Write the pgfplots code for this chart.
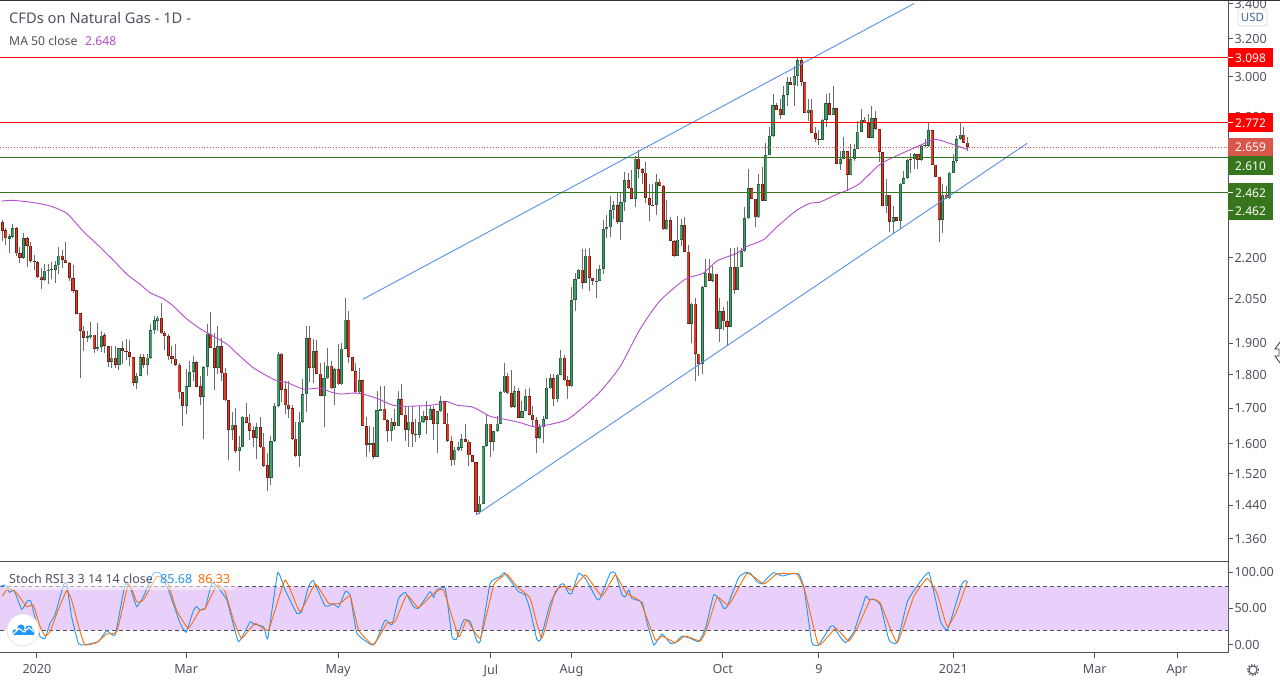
\documentclass[border=0pt]{standalone}
\usepackage{fontspec}
\setmainfont{Noto Sans}
\usepackage{pgfplots}
\usepackage{pgfplotstable}
\pgfplotsset{compat=1.18}
\definecolor{txt}{HTML}{50535E}
\definecolor{axl}{HTML}{50535E}
\definecolor{wick}{HTML}{6E6E6E}
\definecolor{upD}{HTML}{22643F}
\definecolor{upF}{HTML}{4A9A70}
\definecolor{dnD}{HTML}{7A1E14}
\definecolor{dnF}{HTML}{DC3C2C}
\definecolor{band}{HTML}{E9D0FB}
\definecolor{lnred}{HTML}{FF0000}
\definecolor{lngrn}{HTML}{38761D}
\definecolor{trend}{HTML}{5A8FE8}
\definecolor{ma}{HTML}{B44CCF}
\definecolor{rsib}{HTML}{2196F3}
\definecolor{rsio}{HTML}{FF6D00}
\definecolor{boxp}{HTML}{D9574A}
\pgfplotstableread{
i o h l c
2 2.273 2.290 2.217 2.283
3 2.280 2.330 2.274 2.313
6 2.200 2.294 2.197 2.274
12 2.118 2.175 2.114 2.152
13 2.151 2.178 2.102 2.156
14 2.155 2.184 2.120 2.157
15 2.155 2.188 2.106 2.172
16 2.171 2.239 2.138 2.208
24 1.918 1.941 1.904 1.923
25 1.921 1.971 1.913 1.929
27 1.882 1.967 1.876 1.889
28 1.888 1.940 1.872 1.925
31 1.840 1.891 1.823 1.854
33 1.831 1.886 1.815 1.886
38 1.776 1.807 1.757 1.798
39 1.798 1.865 1.797 1.857
41 1.831 1.865 1.799 1.854
42 1.853 1.963 1.851 1.945
43 1.945 1.992 1.930 1.977
44 1.975 1.992 1.941 1.986
52 1.707 1.817 1.683 1.765
53 1.764 1.845 1.762 1.810
54 1.809 1.859 1.782 1.840
57 1.734 1.828 1.614 1.825
58 1.825 1.963 1.797 1.932
61 1.822 1.956 1.802 1.892
65 1.639 1.688 1.609 1.653
67 1.580 1.621 1.526 1.592
68 1.592 1.678 1.590 1.676
72 1.617 1.657 1.558 1.647
76 1.508 1.620 1.490 1.607
77 1.607 1.715 1.604 1.708
78 1.707 1.872 1.705 1.867
84 1.567 1.688 1.537 1.662
85 1.661 1.787 1.659 1.741
86 1.741 1.956 1.688 1.918
88 1.822 1.913 1.775 1.876
91 1.737 1.840 1.645 1.789
92 1.789 1.886 1.787 1.829
94 1.759 1.822 1.710 1.819
96 1.771 1.902 1.769 1.883
97 1.883 2.055 1.881 1.979
101 1.747 1.820 1.745 1.783
104 1.597 1.650 1.578 1.601
106 1.565 1.750 1.564 1.694
107 1.693 1.765 1.692 1.699
110 1.635 1.673 1.607 1.662
112 1.650 1.752 1.648 1.726
115 1.639 1.707 1.591 1.662
118 1.625 1.707 1.617 1.662
119 1.661 1.693 1.659 1.679
121 1.667 1.707 1.666 1.697
123 1.656 1.693 1.576 1.691
124 1.691 1.735 1.690 1.720
128 1.555 1.590 1.543 1.584
129 1.583 1.604 1.581 1.590
130 1.589 1.626 1.581 1.612
135 1.423 1.464 1.419 1.444
136 1.444 1.595 1.442 1.593
137 1.593 1.683 1.591 1.656
139 1.604 1.636 1.581 1.636
140 1.635 1.678 1.633 1.656
141 1.656 1.752 1.654 1.747
142 1.747 1.838 1.745 1.798
145 1.703 1.765 1.701 1.750
147 1.673 1.722 1.671 1.693
148 1.693 1.757 1.692 1.735
152 1.615 1.654 1.613 1.645
153 1.645 1.678 1.601 1.670
154 1.670 1.792 1.668 1.759
155 1.759 1.802 1.757 1.789
157 1.726 1.802 1.717 1.801
158 1.801 1.878 1.799 1.854
161 1.765 2.093 1.764 2.047
162 2.047 2.142 2.007 2.122
163 2.122 2.157 2.120 2.156
165 2.108 2.232 2.106 2.208
168 2.113 2.157 2.055 2.115
169 2.114 2.172 2.113 2.159
170 2.159 2.347 2.138 2.309
171 2.309 2.366 2.276 2.317
172 2.317 2.444 2.279 2.388
173 2.388 2.424 2.350 2.409
175 2.340 2.458 2.268 2.421
176 2.421 2.549 2.384 2.511
179 2.434 2.618 2.401 2.607
185 2.408 2.538 2.366 2.506
188 2.309 2.429 2.306 2.345
191 2.207 2.361 2.206 2.269
192 2.269 2.350 2.245 2.325
195 1.965 2.037 1.900 2.034
198 1.835 2.096 1.802 2.093
199 2.093 2.194 2.092 2.145
201 2.114 2.169 2.111 2.141
203 1.948 2.055 1.904 2.007
206 1.955 2.238 1.954 2.164
208 2.082 2.242 2.081 2.167
209 2.167 2.238 2.166 2.225
210 2.224 2.399 2.223 2.353
211 2.353 2.560 2.350 2.477
214 2.357 2.538 2.354 2.494
216 2.426 2.679 2.424 2.624
217 2.623 2.752 2.622 2.710
218 2.710 2.911 2.707 2.858
221 2.809 2.952 2.807 2.908
222 2.908 3.000 2.855 2.973
224 2.956 3.054 2.855 3.004
225 3.002 3.098 2.952 3.084
228 2.819 2.888 2.781 2.835
232 2.692 2.792 2.691 2.787
233 2.787 2.911 2.752 2.868
235 2.809 2.952 2.807 2.843
237 2.584 2.641 2.555 2.606
238 2.605 2.704 2.603 2.642
240 2.535 2.672 2.534 2.606
241 2.605 2.672 2.596 2.651
242 2.651 2.780 2.648 2.730
243 2.730 2.838 2.729 2.787
246 2.701 2.852 2.700 2.795
250 2.402 2.519 2.377 2.451
252 2.339 2.404 2.290 2.360
254 2.343 2.499 2.310 2.498
255 2.498 2.552 2.496 2.523
256 2.522 2.607 2.519 2.602
258 2.605 2.633 2.559 2.628
260 2.601 2.672 2.596 2.664
261 2.664 2.697 2.661 2.667
262 2.664 2.775 2.661 2.738
266 2.348 2.495 2.297 2.451
268 2.435 2.548 2.431 2.545
269 2.545 2.626 2.542 2.597
270 2.597 2.710 2.589 2.695
271 2.695 2.775 2.693 2.716
}\upT
\pgfplotstableread{
i o h l c
0 2.337 2.346 2.264 2.303
1 2.305 2.313 2.247 2.274
4 2.313 2.317 2.207 2.216
5 2.216 2.241 2.179 2.200
7 2.274 2.280 2.166 2.246
8 2.246 2.260 2.181 2.188
9 2.189 2.209 2.155 2.184
10 2.185 2.189 2.126 2.129
11 2.130 2.163 2.084 2.118
17 2.208 2.228 2.163 2.191
18 2.193 2.260 2.179 2.180
19 2.181 2.184 2.114 2.125
20 2.126 2.172 2.072 2.078
21 2.080 2.080 1.998 1.999
22 2.000 2.000 1.790 1.941
23 1.942 1.958 1.876 1.918
26 1.929 1.929 1.870 1.882
29 1.926 1.935 1.868 1.891
30 1.892 1.892 1.825 1.840
32 1.854 1.891 1.820 1.830
34 1.885 1.908 1.833 1.875
35 1.875 1.913 1.848 1.872
36 1.872 1.911 1.828 1.856
37 1.857 1.857 1.767 1.776
40 1.856 1.865 1.823 1.831
45 1.986 2.035 1.930 1.933
46 1.935 1.941 1.880 1.924
47 1.925 1.930 1.846 1.859
48 1.859 1.891 1.833 1.850
49 1.851 1.897 1.828 1.831
50 1.832 1.838 1.727 1.747
51 1.747 1.747 1.649 1.707
55 1.840 1.843 1.762 1.764
56 1.765 1.797 1.710 1.734
59 1.932 2.003 1.884 1.886
60 1.886 1.935 1.755 1.822
62 1.892 1.919 1.782 1.807
63 1.807 1.822 1.722 1.723
64 1.723 1.723 1.556 1.639
66 1.653 1.702 1.574 1.581
69 1.676 1.715 1.657 1.659
70 1.659 1.683 1.609 1.636
71 1.637 1.650 1.590 1.617
73 1.647 1.676 1.587 1.591
74 1.592 1.631 1.537 1.541
75 1.542 1.576 1.476 1.508
79 1.867 1.870 1.717 1.755
80 1.756 1.782 1.683 1.711
81 1.711 1.782 1.673 1.699
82 1.700 1.709 1.611 1.613
83 1.614 1.661 1.563 1.567
87 1.918 1.959 1.779 1.822
89 1.876 1.911 1.802 1.804
90 1.804 1.838 1.735 1.737
93 1.829 1.845 1.757 1.759
95 1.819 1.897 1.769 1.771
98 1.979 2.007 1.838 1.856
99 1.857 1.857 1.812 1.812
100 1.812 1.838 1.745 1.747
102 1.783 1.783 1.648 1.650
103 1.650 1.676 1.563 1.597
105 1.601 1.645 1.558 1.565
108 1.699 1.765 1.665 1.667
109 1.667 1.668 1.606 1.635
111 1.662 1.698 1.638 1.650
113 1.726 1.772 1.680 1.682
114 1.682 1.707 1.608 1.639
116 1.662 1.707 1.591 1.628
117 1.628 1.668 1.606 1.625
120 1.679 1.722 1.626 1.667
122 1.697 1.707 1.610 1.656
125 1.720 1.722 1.654 1.656
126 1.656 1.685 1.606 1.608
127 1.608 1.622 1.539 1.555
131 1.612 1.656 1.604 1.606
132 1.606 1.610 1.541 1.568
133 1.568 1.568 1.550 1.550
134 1.550 1.550 1.416 1.423
138 1.656 1.656 1.563 1.604
143 1.798 1.805 1.742 1.744
144 1.744 1.814 1.701 1.703
146 1.750 1.759 1.671 1.673
149 1.735 1.760 1.680 1.682
150 1.682 1.707 1.650 1.665
151 1.665 1.676 1.576 1.615
156 1.789 1.802 1.707 1.726
159 1.854 1.864 1.782 1.783
160 1.783 1.797 1.727 1.765
164 2.156 2.232 2.087 2.108
166 2.208 2.236 2.078 2.126
167 2.126 2.126 2.100 2.114
174 2.409 2.458 2.330 2.340
177 2.511 2.545 2.476 2.479
178 2.479 2.556 2.431 2.434
180 2.607 2.644 2.523 2.562
181 2.562 2.567 2.497 2.545
182 2.545 2.593 2.415 2.438
183 2.438 2.495 2.344 2.409
184 2.409 2.495 2.406 2.407
186 2.506 2.519 2.486 2.487
187 2.488 2.490 2.306 2.309
189 2.345 2.357 2.262 2.264
190 2.265 2.268 2.203 2.207
193 2.325 2.357 2.220 2.222
194 2.223 2.247 1.964 1.965
196 2.034 2.055 1.782 1.866
197 1.867 1.867 1.796 1.835
200 2.145 2.197 2.113 2.114
202 2.141 2.141 1.947 1.948
204 2.007 2.023 1.943 1.973
205 1.973 2.043 1.892 1.955
207 2.164 2.238 2.067 2.082
212 2.477 2.481 2.431 2.434
213 2.434 2.434 2.317 2.357
215 2.494 2.571 2.424 2.426
219 2.858 2.868 2.832 2.835
220 2.838 2.885 2.792 2.809
223 2.973 3.000 2.955 2.956
226 3.084 3.102 2.952 2.973
227 2.973 2.973 2.817 2.819
229 2.835 2.888 2.722 2.724
230 2.725 2.752 2.682 2.697
231 2.698 2.740 2.667 2.692
234 2.868 2.918 2.807 2.809
236 2.843 2.843 2.582 2.585
239 2.642 2.642 2.467 2.535
244 2.787 2.800 2.770 2.771
245 2.772 2.813 2.700 2.701
247 2.795 2.828 2.740 2.743
248 2.743 2.743 2.592 2.638
249 2.638 2.638 2.402 2.403
251 2.451 2.451 2.300 2.339
253 2.360 2.360 2.342 2.343
257 2.607 2.633 2.545 2.601
259 2.628 2.628 2.559 2.601
263 2.738 2.738 2.578 2.580
264 2.580 2.580 2.527 2.528
265 2.528 2.528 2.261 2.348
267 2.451 2.488 2.434 2.435
272 2.716 2.752 2.678 2.679
273 2.679 2.707 2.642 2.659
}\dnT
\newcommand{\PX}[2]{({#1pt},{680pt-#2pt})}
\pgfplotsset{barplot/.style={draw=none,mark=none,forget plot,error bars/.cd,y dir=plus,y explicit,error mark=none,error bar style={#1}}}
\begin{document}
\begin{tikzpicture}[x=1pt,y=1pt]
\useasboundingbox (0,0) rectangle (1280pt,680pt);
\fill[white] (0,0) rectangle (1280pt,680pt);
\begin{axis}[
  at={(0pt,118pt)},anchor=south west,scale only axis,width=1228pt,height=561pt,
  ymode=log,xmin=-0.65,xmax=346.7,ymin=1.3066,ymax=3.4146,
  axis x line*=bottom,axis y line*=right,
  axis line style={axl,line width=1pt,-},
  xtick=\empty,
  ytick={1.36,1.44,1.52,1.6,1.7,1.8,1.9,2.05,2.2,2.8,3,3.2,3.4},
  yticklabels={1.360,1.440,1.520,1.600,1.700,1.800,1.900,2.050,2.200,2.800,3.000,3.200,3.400},
  yticklabel pos=right,
  tick align=outside,major tick length=5pt,
  tick style={axl,line width=1pt},
  minor tick num=0,yminorticks=false,
  yticklabel style={font=\fontsize{12.6}{14}\selectfont,text=txt,anchor=west,xshift=-2pt},
  clip=true,
]
% wicks
\addplot[barplot={draw=wick,line width=1pt}] table[x=i,y=l,y error plus expr=\thisrow{h}-\thisrow{l}] {\upT};
\addplot[barplot={draw=wick,line width=1pt}] table[x=i,y=l,y error plus expr=\thisrow{h}-\thisrow{l}] {\dnT};
% bodies
\addplot[barplot={draw=upD,line width=3.1pt}] table[x=i,y=o,y error plus expr=\thisrow{c}-\thisrow{o}] {\upT};
\addplot[barplot={draw=upF,line width=1.5pt}] table[x=i,y expr=\thisrow{o}*1.0014,y error plus expr={max(\thisrow{c}*0.9986-\thisrow{o}*1.0014,0)}] {\upT};
\addplot[barplot={draw=dnD,line width=3.1pt}] table[x=i,y=c,y error plus expr=\thisrow{o}-\thisrow{c}] {\dnT};
\addplot[barplot={draw=dnF,line width=1.5pt}] table[x=i,y expr=\thisrow{c}*1.0014,y error plus expr={max(\thisrow{o}*0.9986-\thisrow{c}*1.0014,0)}] {\dnT};
% moving average
\addplot[ma,line width=0.9pt,smooth,tension=0.4] coordinates {
(-0.2,2.424)(3,2.427)(8.7,2.418)(13.5,2.404)(18.3,2.373)(22.8,2.303)(27.6,2.241)(31.3,2.192)(35.3,2.138)(39,2.102)(41.8,2.072)(45.5,2.051)(48.3,2.026)(52.2,1.981)(55.9,1.949)(59.6,1.924)(63.6,1.897)(67.2,1.859)(70.9,1.823)(74.9,1.797)(77.7,1.782)(80.5,1.777)(85.1,1.757)(89.9,1.760)(92.7,1.749)(95.5,1.742)(99.2,1.745)(102,1.742)(106,1.729)(110.5,1.709)(114.5,1.706)(120.2,1.708)(123.8,1.713)(125.8,1.720)(128.6,1.709)(133.2,1.703)(138,1.677)(142.8,1.667)(146.4,1.659)(150.1,1.648)(154.1,1.652)(159.7,1.667)(164.3,1.703)(169.1,1.749)(174.7,1.825)(180.4,1.947)(186,2.043)(193.1,2.120)(198.2,2.142)(202.2,2.188)(207.8,2.217)(210.6,2.243)(215.2,2.268)(219.4,2.323)(224.7,2.386)(228.5,2.415)(231.3,2.420)(236,2.452)(238.9,2.469)(242.6,2.499)(248.3,2.582)(253.9,2.626)(259.6,2.667)(263.9,2.694)(268,2.676)(273,2.648)};
% trend lines
\addplot[trend,line width=0.9pt] coordinates {(102,2.049)(257.9,3.4)};
\addplot[trend,line width=0.9pt] coordinates {(134.3,1.418)(289.9,2.676)};
% levels
\addplot[lnred,line width=1pt] coordinates {(-0.65,3.098)(346.7,3.098)};
\addplot[lnred,line width=1pt] coordinates {(-0.65,2.772)(346.7,2.772)};
\addplot[lngrn,line width=1pt] coordinates {(-0.65,2.610)(346.7,2.610)};
\addplot[lngrn,line width=1pt] coordinates {(-0.65,2.462)(346.7,2.462)};
\addplot[boxp,line width=0.8pt,dotted] coordinates {(-0.65,2.659)(346.7,2.659)};
\end{axis}
\begin{axis}[
  at={(0pt,27pt)},anchor=south west,scale only axis,width=1228pt,height=91pt,
  xmin=-0.65,xmax=346.7,ymin=-10.96,ymax=113.7,
  axis x line*=bottom,axis y line*=right,
  axis line style={axl,line width=1pt,-},
  xtick={9.8,52,95,138.2,161,203.8,231,269,309,332.3},
  xticklabels={\textbf{2020},Mar,May,Jul,Aug,Oct,9,\textbf{2021},Mar,Apr},
  ytick={0,50,100},yticklabels={0.00,50.00,100.00},
  yticklabel pos=right,
  tick align=outside,major tick length=5pt,
  tick style={axl,line width=1pt},
  yticklabel style={font=\fontsize{12.6}{14}\selectfont,text=txt,anchor=west,xshift=-2pt},
  xticklabel style={font=\fontsize{12.6}{14}\selectfont,text=txt,yshift=-3pt},
]
\addplot[draw=none,fill=band,forget plot] coordinates {(-0.65,20)(346.7,20)(346.7,80)(-0.65,80)} \closedcycle;
\addplot[txt,line width=0.8pt,dash pattern=on 4pt off 3pt,forget plot] coordinates {(-0.65,80)(346.7,80)};
\addplot[txt,line width=0.8pt,dash pattern=on 4pt off 3pt,forget plot] coordinates {(-0.65,20)(346.7,20)};
\addplot[rsib,line width=0.9pt,smooth,tension=0.22] coordinates {
(-0.65,79.9)(0.8,82.2)(2,72.1)(3.3,75.3)(5.5,48.9)(7.1,60.3)(8,60.7)(9.2,38.8)(10.7,11.4)(12.1,9.1)(13.5,29.7)(14.9,41.1)(17.3,82.2)(18.2,84.5)(19.6,38.8)(21.5,2.3)(22.9,0)(27.2,4.6)(29.5,19.6)(31.9,13.7)(34.7,82.2)(36.1,79.9)(38,52.5)(39.9,66.2)(42.7,98.2)(44.6,98.2)(47,75.3)(50.3,29.7)(52,17.4)(54.1,47.9)(55,52.5)(55.9,47.9)(57.4,50.2)(59.2,84.5)(60.7,80.8)(63.5,61.6)(66.8,4.6)(70.1,32)(71,28.8)(73.9,25.1)(75.1,9.1)(77.9,99.1)(80,75.3)(83.3,43.4)(84.7,45.7)(86.6,79.9)(88,88.1)(91.3,53.4)(93.7,56.2)(95.1,51.6)(97,73.1)(98.4,68.5)(100.3,16)(104.5,0)(105.9,6.8)(108.3,34.2)(110.2,27.4)(112.1,63.9)(114,72.1)(116.3,52.5)(117.7,50.2)(121,73.1)(122,65.3)(122.9,75.3)(125.3,77.6)(127.2,11.4)(128.4,7.8)(130.5,34.2)(132.4,32)(134.2,5.5)(135.2,5.5)(138,84.5)(140.8,93.6)(142,99.1)(144.6,82.2)(146,73.1)(147.9,68.5)(149.3,47.9)(151.2,7.8)(152.2,6.8)(155,57.1)(157.8,82.2)(158.8,83.6)(160.2,70.8)(161.1,70.8)(163,98.2)(164.9,91.3)(168.2,62.6)(169.1,63.9)(172,99.1)(173.4,98.2)(175.3,68.5)(176.2,66.2)(177.2,75.3)(178.1,63.9)(181,58.4)(182.4,29.7)(184.3,0)(186.6,15.1)(189,2.3)(190.4,3.2)(192.3,12.3)(194.6,9.1)(197,4.6)(198.9,22.8)(201.2,68.5)(202.6,63.9)(204.1,50.2)(205,52.5)(208.3,92.7)(210.2,99.1)(211.6,98.2)(213.5,86.8)(214.9,83.6)(216.3,91.3)(218.2,99.1)(220.6,94.5)(222.9,97.3)(225.3,97.3)(226.7,79.9)(229,3.2)(230.9,0)(234.2,25.1)(235.2,26)(236.6,13.7)(238.5,3.2)(240.9,18.3)(244.2,66.2)(245.1,62.6)(247,61.6)(248.4,54.8)(250.8,6.8)(253.1,3.2)(256,59.4)(258.3,77.6)(262.1,99.1)(265.4,32)(267.3,20.5)(269.2,47.9)(271.5,84.5)(272.5,88.1)(273.2,85.7)};
\addplot[rsio,line width=0.9pt,smooth,tension=0.22] coordinates {
(0,67.1)(1.7,77.6)(4.1,70.8)(6.9,52.5)(8.8,54.8)(10.7,25.1)(12.1,12.3)(13.5,18.3)(15.8,47.9)(18.2,74.4)(19.6,61.6)(22,18.3)(23.4,0)(26.7,3.2)(29.5,15.1)(32.4,18.3)(35.7,83.6)(38,59.4)(39.9,61.6)(43.7,93.6)(46.5,89)(49.3,47.9)(52.6,22.8)(55.9,47.9)(57.4,50.2)(60.7,82.2)(63,73.1)(65.4,34.2)(67.7,9.1)(71.5,29.7)(75.3,20.5)(80,89)(84.2,45.7)(88.5,83.6)(92.3,57.1)(95.6,57.1)(98.4,67.1)(100.8,20.5)(105,0)(108.8,29.7)(111.1,32)(114.4,68.5)(117.7,51.1)(122,70.8)(124.8,75.3)(129.1,11.4)(131.4,34.2)(135.2,9.1)(139,82.2)(140.8,91.3)(142.7,97.3)(145.6,79.9)(149.3,63.9)(152.6,9.1)(156.4,73.1)(158.8,80.8)(161.1,75.3)(164.9,95.9)(169.6,67.1)(173.4,95.9)(176.5,70.8)(180.5,59.4)(184.7,6.8)(186.6,12.3)(190.4,3.2)(193.2,12.3)(197.5,5.5)(199.3,22.8)(202.2,65.3)(205.5,54.8)(210.7,98.2)(215.4,83.6)(219.1,97.3)(224.8,97.3)(227.2,70.8)(230.9,0)(235.7,22.8)(239.4,5.5)(241.8,22.8)(245.6,62.6)(248.4,57.1)(253.1,3.2)(257.8,66.2)(261.6,91.3)(264.4,70.8)(267.3,25.1)(270.1,47.9)(272.9,86.3)};
\end{axis}
% frame
\draw[axl!60!black,line width=1.2pt] (0,679.5pt) -- (1280pt,679.5pt);
% header texts
\node[anchor=west,text=txt,font=\fontsize{14.7}{16}\selectfont,inner sep=0pt] at \PX{9}{18} {CFDs on Natural Gas - 1D -};
\node[anchor=west,text=txt,font=\fontsize{12.2}{14}\selectfont,inner sep=0pt] at \PX{9}{41} {MA 50 close};
\node[anchor=west,text=ma,font=\fontsize{12.2}{14}\selectfont,inner sep=0pt] at \PX{85}{41} {2.648};
% stoch label
\fill[white,opacity=0.5] \PX{5}{571} rectangle \PX{235}{590};
\node[anchor=west,text=txt,font=\fontsize{12.5}{14}\selectfont,inner sep=0pt] at \PX{9}{579} {Stoch RSI 3 3 14 14 close};
\node[anchor=west,text=rsib,font=\fontsize{12.5}{14}\selectfont,inner sep=0pt] at \PX{160}{579} {85.68};
\node[anchor=west,text=rsio,font=\fontsize{12.5}{14}\selectfont,inner sep=0pt] at \PX{198}{579} {86.33};
% logo
\fill[white,draw=black!12,line width=0.7pt] \PX{23}{630} circle (16pt);
\fill[rsib] \PX{15}{632} circle (2.6pt);
\fill[rsib] \PX{21}{628} circle (3.6pt);
\fill[rsib] \PX{29}{629} circle (3.6pt);
\fill[rsib] \PX{32}{632.5} circle (2.6pt);
\fill[rsib] \PX{13}{630.5} rectangle \PX{34}{635};
\draw[white,line width=1.1pt] \PX{13}{634} -- \PX{19}{628.5} -- \PX{24}{632} -- \PX{29}{627.5} -- \PX{34}{632};
% price boxes
\foreach \yy/\col/\lab/\ty in {58/lnred/3.098/58,123/lnred/2.772/123,147.5/boxp/2.659/147.5,165.5/lngrn/2.610/166,192.5/lngrn/2.462/193,211/lngrn/2.462/211}{
  \fill[\col] ({1228pt},{680pt-(\yy pt)-9.5pt}) rectangle ({1273pt},{680pt-(\yy pt)+9.5pt});
  \node[anchor=west,text=white,font=\bfseries\fontsize{12}{14}\selectfont,inner sep=0pt] at ({1235pt},{680pt-(\ty pt)}) {\lab};
}
\foreach \yy in {58,123,192.5,211}{\draw[white,line width=1pt] ({1228pt},{680pt-(\yy pt)}) -- ({1233pt},{680pt-(\yy pt)});}
% USD badge
\fill[white,draw=black!15,line width=0.7pt,rounded corners=3pt] \PX{1238}{9} rectangle \PX{1267}{26};
\node[text=trend!70!black,font=\fontsize{11.5}{13}\selectfont,inner sep=0pt] at \PX{1252.5}{17.5} {USD};
% cursor
\draw[black!75,line width=0.9pt] \PX{1280}{342} -- \PX{1275}{349} -- \PX{1279}{349} -- \PX{1279}{356} -- \PX{1275}{356} -- \PX{1280}{363};
% gear
\draw[txt,line width=1.2pt,dash pattern=on 1.5pt off 1.5pt] \PX{1253}{670} circle (5.5pt);
\draw[txt,line width=1pt] \PX{1253}{670} circle (4pt);
\end{tikzpicture}
\end{document}
